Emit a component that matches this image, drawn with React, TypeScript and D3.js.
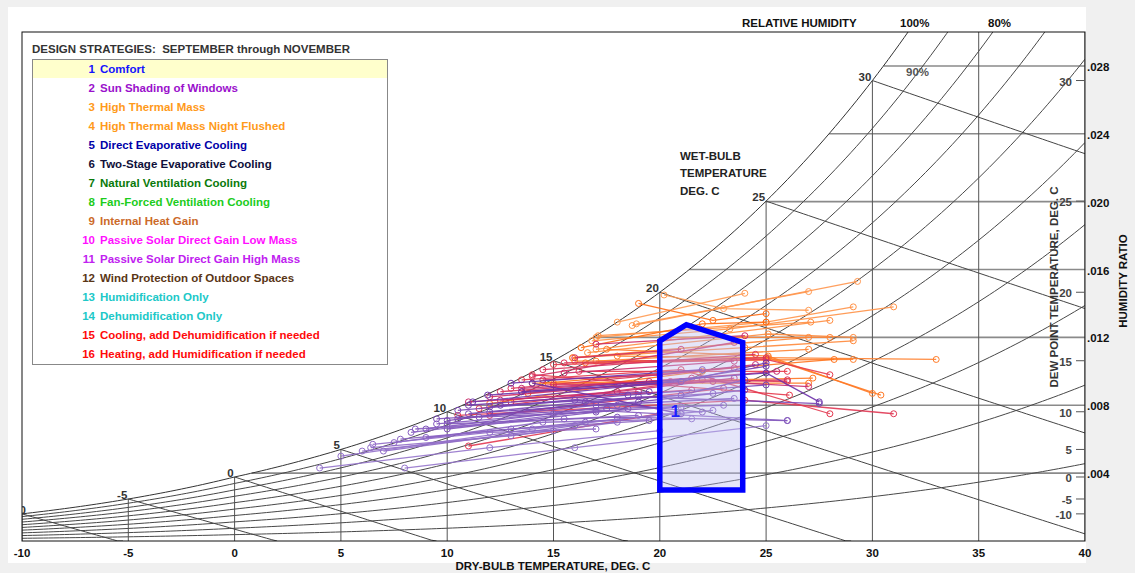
import React, { useEffect, useRef } from "react";
import * as d3 from "d3";

const WIDTH = 1135;
const HEIGHT = 573;
const FONT = "'Liberation Sans', Arial, sans-serif";

// axes of the chart
const dryBulbTicks = [-10, -5, 0, 5, 10, 15, 20, 25, 30, 35, 40];
const wetBulbTicks = [-10, -5, 0, 5, 10, 15, 20, 25, 30];
const dewPointTicks = [30, 25, 20, 15, 10, 5, 0, -5, -10];
const humidityRatioTicks = [0.004, 0.008, 0.012, 0.016, 0.02, 0.024, 0.028];
const relHumidityLines = [0.1, 0.2, 0.3, 0.4, 0.5, 0.6, 0.7, 0.8, 0.9, 1.0];

const strategyNames = [
  "Comfort",
  "Sun Shading of Windows",
  "High Thermal Mass",
  "High Thermal Mass Night Flushed",
  "Direct Evaporative Cooling",
  "Two-Stage Evaporative Cooling",
  "Natural Ventilation Cooling",
  "Fan-Forced Ventilation Cooling",
  "Internal Heat Gain",
  "Passive Solar Direct Gain Low Mass",
  "Passive Solar Direct Gain High Mass",
  "Wind Protection of Outdoor Spaces",
  "Humidification Only",
  "Dehumidification Only",
  "Cooling, add Dehumidification if needed",
  "Heating, add Humidification if needed",
];
const STRATEGY_COLOURS = [
  "#1414ff", "#9a10cc", "#ff9a1a", "#ff9a1a", "#0000a8", "#10103a",
  "#0a7a0a", "#1ccc1c", "#cc6a2a", "#ff10ff", "#c020f0", "#5a3616",
  "#20c8c8", "#20c8c8", "#ff0a0a", "#ff0a0a",
];

// comfort zone, [dry bulb C, humidity ratio]
const comfortZone: [number, number][] = [
  [20.0, 0.003], [20.0, 0.0118], [21.25, 0.01275], [23.9, 0.0117], [23.9, 0.003],
];

// daily traces [dry bulb C, humidity ratio]
const septDays: [number, number][][] = [
  [[20.2, 0.0145], [23.0, 0.0137], [27.0, 0.0136]],
  [[18.0, 0.0129], [24.0, 0.0146]],
  [[18.9, 0.0128], [27.0, 0.0147]],
  [[18.7, 0.0127], [29.3, 0.0153]],
  [[17.0, 0.012], [25.0, 0.0129], [29.1, 0.0138]],
  [[16.8, 0.0118], [23.3, 0.0125], [31.0, 0.0138]],
  [[17.1, 0.0121], [27.1, 0.0129]],
  [[17.0, 0.0113], [28.0, 0.013]],
  [[16.6, 0.0111], [25.1, 0.0122], [29.1, 0.012]],
  [[15.9, 0.0108], [24.0, 0.0114], [29.1, 0.0118]],
  [[20.4, 0.012], [28.0, 0.012]],
  [[15.9, 0.0108], [27.0, 0.012]],
  [[17.0, 0.0106], [27.0, 0.0113]],
  [[16.0, 0.0106], [29.1, 0.0107]],
  [[18.0, 0.0109], [33.0, 0.0107]],
  [[17.5, 0.0113], [25.1, 0.0109], [30.0, 0.0087]],
  [[16.5, 0.0105], [25.1, 0.0108], [30.4, 0.0086]],
  [[15.0, 0.0093], [27.2, 0.0096]],
  [[14.0, 0.0093], [27.0, 0.0093]],
  [[14.5, 0.0093], [28.2, 0.0107]],
  [[12.0, 0.0081], [18.0, 0.0092]],
  [[13.8, 0.0087], [22.0, 0.01]],
  [[19.0, 0.014], [22.5, 0.013], [25.0, 0.0134]],
  [[16.3, 0.0114], [22.0, 0.0128], [25.0, 0.0129]],
];
const octDays: [number, number][][] = [
  [[16.2, 0.01], [26.0, 0.01]],
  [[15.0, 0.0104], [25.0, 0.0107], [28.0, 0.0098]],
  [[14.0, 0.0098], [26.1, 0.0086]],
  [[13.5, 0.0095], [21.0, 0.0101], [28.0, 0.0075]],
  [[11.0, 0.0056], [20.0, 0.0075]],
  [[10.5, 0.0074], [24.0, 0.0083], [31.0, 0.0075]],
  [[12.0, 0.0074], [23.0, 0.009]],
  [[11.5, 0.0078], [22.0, 0.0095], [26.0, 0.0094]],
  [[15.5, 0.0105], [25.0, 0.0108]],
  [[13.0, 0.009], [23.5, 0.0102]],
  [[14.5, 0.0101], [24.5, 0.011]],
  [[15.0, 0.0092], [26.0, 0.0095]],
  [[12.5, 0.0088], [21.5, 0.0096]],
  [[16.0, 0.0108], [21.0, 0.0113]],
  [[14.0, 0.0097], [23.5, 0.0117]],
  [[13.0, 0.0082], [21.5, 0.0089]],
  [[12.0, 0.0085], [20.5, 0.0094]],
  [[17.0, 0.0116], [24.0, 0.0121]],
  [[15.5, 0.0099], [23.5, 0.0106]],
  [[11.0, 0.0082], [19.0, 0.0088]],
  [[13.5, 0.0088], [22.5, 0.0094], [27.0, 0.0091]],
  [[12.5, 0.0083], [18.0, 0.0088], [23.5, 0.0096]],
  [[13.5, 0.009], [19.5, 0.0094], [25.5, 0.01]],
  [[14.5, 0.0095], [20.0, 0.0098], [24.5, 0.0104]],
];
const novDays: [number, number][][] = [
  [[14.0, 0.0093], [21.0, 0.0075]],
  [[13.5, 0.0088], [25.0, 0.0099], [27.5, 0.0082]],
  [[13.0, 0.0093], [22.0, 0.0101]],
  [[11.9, 0.0086], [21.0, 0.0094], [25.0, 0.0105]],
  [[11.2, 0.0082], [20.0, 0.0093], [25.0, 0.0103]],
  [[12.5, 0.008], [21.0, 0.0086], [24.0, 0.0095]],
  [[11.0, 0.008], [19.5, 0.0088]],
  [[12.0, 0.0076], [19.0, 0.0082], [24.0, 0.0089]],
  [[12.0, 0.0079], [18.5, 0.0086], [25.0, 0.0092]],
  [[10.0, 0.0071], [19.0, 0.0085], [27.5, 0.0081]],
  [[10.5, 0.0077], [16.0, 0.0083], [22.0, 0.0076]],
  [[11.0, 0.0075], [16.5, 0.0082], [22.5, 0.0087]],
  [[9.5, 0.0072], [17.5, 0.0078], [23.0, 0.008]],
  [[10.5, 0.0072], [17.0, 0.008], [23.5, 0.0084]],
  [[11.5, 0.0073], [17.0, 0.0076]],
  [[10.0, 0.0066], [18.5, 0.0078]],
  [[10.0, 0.0069], [18.0, 0.0073], [26.0, 0.0071]],
  [[9.0, 0.0066], [18.0, 0.008]],
  [[9.5, 0.0069], [15.0, 0.0075], [21.0, 0.0079]],
  [[8.3, 0.0064], [17.0, 0.0077], [26.0, 0.0071]],
  [[9.0, 0.0061], [16.5, 0.007], [22.5, 0.0077]],
  [[8.5, 0.0066], [15.5, 0.0072], [19.0, 0.0074]],
  [[7.8, 0.006], [13.0, 0.0066], [19.5, 0.0071]],
  [[7.5, 0.0058], [14.5, 0.007], [21.5, 0.0072]],
  [[7.0, 0.0053], [16.0, 0.0068]],
  [[6.5, 0.0057], [12.0, 0.0064], [17.0, 0.0066]],
  [[6.4, 0.0055], [13.0, 0.0062], [18.0, 0.007]],
  [[6.0, 0.0053], [15.0, 0.0065]],
  [[5.0, 0.005], [14.0, 0.0066], [21.0, 0.0076]],
  [[4.0, 0.0043], [12.0, 0.0055], [20.0, 0.0065]],
  [[8.0, 0.0043], [16.0, 0.0055], [25.0, 0.0068]],
];

// psychrometrics, kPa at sea level
const P_ATM = 101.325;
const satPressure = (t: number) =>
  t >= 0
    ? 0.61094 * Math.exp((17.625 * t) / (t + 243.04))
    : 0.61115 * Math.exp((22.452 * t) / (272.55 + t));
const ratioAt = (t: number, rh: number) => {
  const p = rh * satPressure(t);
  return (0.621945 * p) / (P_ATM - p);
};
const satRatio = (t: number) => ratioAt(t, 1);
const wetBulbRatio = (t: number, twb: number) => {
  const ws = satRatio(twb);
  if (twb >= 0) return ((2501 - 2.326 * twb) * ws - 1.006 * (t - twb)) / (2501 + 1.86 * t - 4.186 * twb);
  return ((2830 - 0.24 * twb) * ws - 1.006 * (t - twb)) / (2830 + 1.86 * t - 2.1 * twb);
};
const dewPoint = (w: number) => {
  let lo = -40, hi = 60;
  for (let i = 0; i < 50; i++) {
    const mid = (lo + hi) / 2;
    if (satRatio(mid) < w) lo = mid; else hi = mid;
  }
  return (lo + hi) / 2;
};

const Chart = () => {
  const svgRef = useRef<SVGSVGElement>(null);

  useEffect(() => {
    document.body.style.margin = "0";
    const svg = d3.select(svgRef.current);
    svg.selectAll("*").remove();

    const x = d3.scaleLinear().domain([-10, 40]).range([22, 1085]);
    const y = d3.scaleLinear().domain([0, 0.03]).range([541, 32]);
    const temps = d3.range(-10, 40.001, 0.25);

    svg.append("rect").attr("width", WIDTH).attr("height", HEIGHT).attr("fill", "#f0f0f0");
    svg.append("rect").attr("x", 8).attr("y", 7).attr("width", 1078).attr("height", 556).attr("fill", "#ffffff");

    svg.append("defs").append("clipPath").attr("id", "plot-clip")
      .append("rect").attr("x", 22).attr("y", 32).attr("width", 1063).attr("height", 509);

    const grid = svg.append("g").attr("clip-path", "url(#plot-clip)");
    const line = d3.line<[number, number]>().x(d => x(d[0])).y(d => y(d[1]));

    // humidity ratio lines
    humidityRatioTicks.forEach(w => {
      grid.append("line")
        .attr("x1", x(dewPoint(w))).attr("x2", x(40))
        .attr("y1", y(w)).attr("y2", y(w))
        .style("stroke", "#8a8a8a").style("stroke-width", 1.6);
    });

    // dry bulb verticals
    dryBulbTicks.forEach(t => {
      grid.append("line")
        .attr("x1", x(t)).attr("x2", x(t))
        .attr("y1", y(0)).attr("y2", y(Math.min(satRatio(t), 0.03)))
        .style("stroke", "#555").style("stroke-width", 1);
    });

    // relative humidity curves
    relHumidityLines.forEach(rh => {
      grid.append("path")
        .attr("d", line(temps.map(t => [t, ratioAt(t, rh)] as [number, number])))
        .style("fill", "none").style("stroke", rh === 1 ? "#333" : "#484848").style("stroke-width", 1);
    });

    // wet bulb lines
    wetBulbTicks.forEach(twb => {
      const pts: [number, number][] = [];
      for (let t = twb; t <= 40.001; t += 0.25) {
        const w = wetBulbRatio(t, twb);
        if (w < 0) { pts.push([t, 0]); break; }
        pts.push([t, w]);
      }
      grid.append("path").attr("d", line(pts))
        .style("fill", "none").style("stroke", "#444").style("stroke-width", 1);
    });

    // daily weather traces
    const allDays = [...septDays, ...octDays, ...novDays];
    const s = septDays.length, o = octDays.length;
    const dayColour = d3.scaleLinear<string>()
      .domain([0, s - 1, s, s + o - 1, s + o, allDays.length - 1])
      .range(["#ff9c55", "#ff6a10", "#e83a4a", "#c42a72", "#6a2ea8", "#9676cc"])
      .interpolate(d3.interpolateRgb);
    const traces = svg.append("g").attr("clip-path", "url(#plot-clip)");
    allDays.forEach((day, i) => {
      const c = dayColour(i);
      traces.append("path").attr("d", line(day))
        .style("fill", "none").style("stroke", c).style("stroke-width", 1.3).style("stroke-opacity", 0.9);
      day.forEach(p => {
        traces.append("circle")
          .attr("cx", x(p[0])).attr("cy", y(p[1])).attr("r", 3)
          .style("fill", "none").style("stroke", c).style("stroke-width", 1);
      });
    });

    // comfort zone
    svg.append("path")
      .attr("d", line(comfortZone) + "Z")
      .style("fill", "rgba(190,190,240,0.4)").style("stroke", "#0000ff").style("stroke-width", 5.5)
      .style("stroke-linejoin", "miter");
    svg.append("text")
      .attr("x", x(20.5)).attr("y", 417)
      .style("font", `bold 17px ${FONT}`).style("fill", "#2020ff").text("1");

    // frame
    svg.append("rect").attr("x", 22).attr("y", 32).attr("width", 1063).attr("height", 509)
      .style("fill", "none").style("stroke", "#111").style("stroke-width", 1);

    const label = (px: number, py: number, txt: string, anchor = "start", colour = "#111", size = 11.5) =>
      svg.append("text").attr("x", px).attr("y", py).attr("text-anchor", anchor)
        .style("font", `bold ${size}px ${FONT}`).style("fill", colour).style("white-space", "pre").text(txt);

    // bottom axis
    dryBulbTicks.forEach(t => label(x(t), 557, String(t), "middle"));
    label(553, 570, "DRY-BULB TEMPERATURE, DEG. C", "middle");

    // wet bulb labels on the saturation curve
    wetBulbTicks.forEach(t => {
      const txt = label(x(t) - 1, y(satRatio(t)), String(t), "end", "#333");
      if (t === -10) txt.attr("x", x(t) + 4).attr("clip-path", "url(#plot-clip)");
    });
    label(680, 160, "WET-BULB", "start", "#222");
    label(680, 177, "TEMPERATURE", "start", "#222");
    label(680, 195, "DEG. C", "start", "#222");

    // relative humidity labels
    label(742, 27, "RELATIVE HUMIDITY");
    label(900, 27, "100%");
    label(988, 27, "80%");
    label(906, 76, "90%", "start", "#555");

    // dew point scale inside right edge
    dewPointTicks.forEach(t => {
      const yy = y(satRatio(t));
      svg.append("line").attr("x1", 1076).attr("x2", 1085).attr("y1", yy).attr("y2", yy)
        .style("stroke", "#555").style("stroke-width", 1);
      label(1072, yy + 5, String(t), "end", "#444");
    });
    svg.append("text")
      .attr("transform", "translate(1058,287) rotate(-90)").attr("text-anchor", "middle")
      .style("font", `bold 11.5px ${FONT}`).style("fill", "#333").text("DEW POINT TEMPERATURE, DEG. C");

    // humidity ratio scale
    humidityRatioTicks.forEach(w => label(1087, y(w) + 5, d3.format(".3f")(w).replace(/^0/, "")));
    svg.append("text")
      .attr("transform", "translate(1127,281) rotate(-90)").attr("text-anchor", "middle")
      .style("font", `bold 11.5px ${FONT}`).style("fill", "#111").text("HUMIDITY RATIO");

    // legend
    label(32, 53, "DESIGN STRATEGIES:  SEPTEMBER through NOVEMBER", "start", "#333");
    svg.append("rect").attr("x", 32.5).attr("y", 59.5).attr("width", 355).attr("height", 305)
      .style("fill", "#fff").style("stroke", "#888");
    svg.append("rect").attr("x", 33).attr("y", 60).attr("width", 354).attr("height", 18).style("fill", "#ffffcc");
    strategyNames.forEach((name, i) => {
      const yy = 72.5 + i * 19;
      label(95, yy, String(i + 1), "end", STRATEGY_COLOURS[i]);
      label(100, yy, name, "start", STRATEGY_COLOURS[i]);
    });
  }, []);

  return <svg ref={svgRef} width={WIDTH} height={HEIGHT} style={{ position: "absolute", left: 0, top: 0 }} />;
};

export default function App() {
  return <Chart />;
}
